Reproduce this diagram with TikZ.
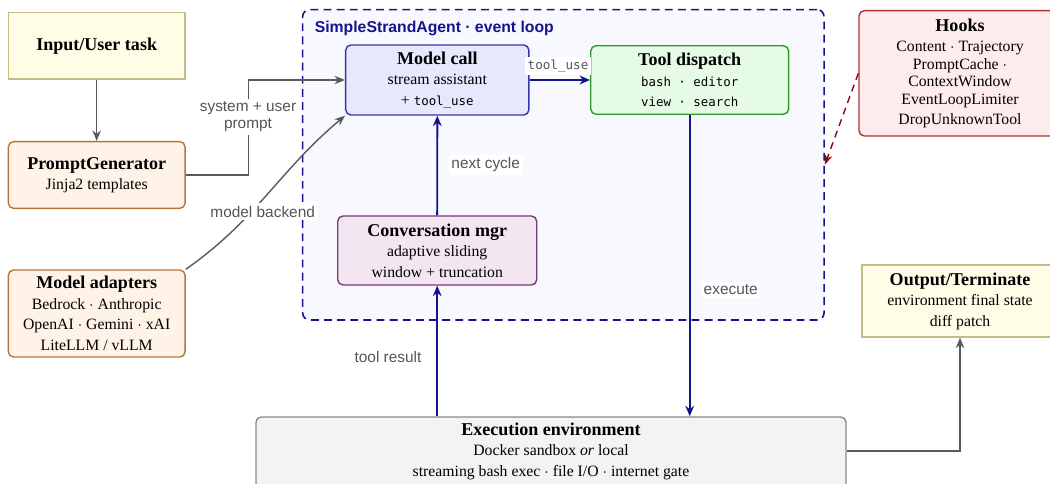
\documentclass[tikz,border=0pt]{standalone}
\usepackage{fontspec}
\setmainfont{Liberation Serif}
\setsansfont{Liberation Sans}
\setmonofont{DejaVu Sans Mono}
\usetikzlibrary{arrows.meta,calc}
\definecolor{navyc}{HTML}{14148F}
\definecolor{labelgray}{HTML}{555555}
\definecolor{arrgray}{HTML}{5A5A5A}
\definecolor{darkredc}{HTML}{8B0A0A}
\definecolor{yfill}{HTML}{FFFDE6}
\definecolor{ydraw}{HTML}{C4BC86}
\definecolor{ofill}{HTML}{FFF3E8}
\definecolor{odraw}{HTML}{B3773B}
\definecolor{bfill}{HTML}{E6E8FC}
\definecolor{bdraw}{HTML}{3535AE}
\definecolor{gfill}{HTML}{E6FBE6}
\definecolor{gdraw}{HTML}{2E9A2E}
\definecolor{pfill}{HTML}{F4E6F0}
\definecolor{pdraw}{HTML}{7A3A78}
\definecolor{rfill}{HTML}{FDECEC}
\definecolor{rdraw}{HTML}{B03030}
\definecolor{efill}{HTML}{F3F3F3}
\definecolor{edraw}{HTML}{8A8A8A}
\definecolor{loopfill}{HTML}{F8F8FF}
\newcommand\boxtitle[1]{{\fontsize{10.3}{11.7}\selectfont\bfseries #1}}
\newcommand\monotxt[1]{{\fontsize{7.1}{11.7}\selectfont\ttfamily #1}}
\begin{document}
\begin{tikzpicture}[x=0.5714pt,y=-0.5714pt,
  box/.style={draw, line width=0.8pt, align=center, inner sep=0pt,
    font=\fontsize{9}{11.7}\selectfont},
  lbl/.style={font=\fontsize{8.8}{9.6}\selectfont\sffamily, text=labelgray,
    fill=white, inner sep=1.5pt, align=center},
  navyarr/.style={draw=navyc, line width=1.1pt, -{Stealth[length=6pt,width=5pt]}},
  grayarr/.style={draw=arrgray, line width=0.8pt, -{Stealth[length=6pt,width=4.8pt]}},
  redarr/.style={draw=darkredc, line width=0.8pt, dash pattern=on 4pt off 3pt,
    -{Stealth[length=6pt,width=4.6pt]}}]
\path[use as bounding box] (0,0) rectangle (1050,484);
\clip (0,0) rectangle (1050,484);

% container
\node[draw=navyc, fill=loopfill, line width=0.9pt, dash pattern=on 4.5pt off 3pt,
  rounded corners=4pt, minimum width=297.9pt, minimum height=177.4pt, inner sep=0pt]
  (loop) at (563.35,164.8) {};
\node[anchor=west, inner sep=0pt, text=navyc,
  font=\fontsize{9}{10}\selectfont\sffamily\bfseries] (looptitle) at (314.5,28)
  {SimpleStrandAgent · event loop};

% nodes
\node[box, fill=yfill, draw=ydraw, minimum width=101pt, minimum height=37.9pt]
  (input) at (96.7,45.8) {\boxtitle{Input/User task}};
\node[box, fill=ofill, draw=odraw, rounded corners=3pt, minimum width=101pt, minimum height=38.1pt]
  (promptgen) at (96.7,175) {\boxtitle{PromptGenerator}\\Jinja2 templates};
\node[box, fill=ofill, draw=odraw, rounded corners=3pt, minimum width=101pt, minimum height=49.7pt]
  (adapters) at (96.7,313.5) {\boxtitle{Model adapters}\\Bedrock $\cdot$ Anthropic\\OpenAI $\cdot$ Gemini $\cdot$ xAI\\LiteLLM / vLLM};
\node[box, fill=bfill, draw=bdraw, rounded corners=3pt, minimum width=104.7pt, minimum height=40pt]
  (modelcall) at (437.3,80) {\boxtitle{Model call}\\stream assistant\\+ \monotxt{tool\_use}};
\node[box, fill=gfill, draw=gdraw, rounded corners=3pt, minimum width=113.1pt, minimum height=39.1pt]
  (tooldisp) at (689.7,80) {\boxtitle{Tool dispatch}\\\monotxt{bash · editor}\\\monotxt{view · search}};
\node[box, fill=pfill, draw=pdraw, rounded corners=3pt, minimum width=113.7pt, minimum height=39.4pt]
  (conv) at (437.2,250.5) {\boxtitle{Conversation mgr}\\adaptive sliding\\window + truncation};
% execution environment: its box runs past the lower edge of the picture
\draw[fill=efill, draw=edraw, line width=0.8pt, rounded corners=3pt] (256,417) rectangle (846,496);
\node[box, draw=none, minimum width=337.1pt, minimum height=38.9pt]
  (exec) at (551,451) {\boxtitle{Execution environment}\\Docker sandbox \emph{or} local\\streaming bash exec $\cdot$ file I/O $\cdot$ internet gate};
\node[box, fill=yfill, draw=ydraw, minimum width=112pt, minimum height=41.1pt]
  (output) at (960,301) {\boxtitle{Output/Terminate}\\environment final state\\diff patch};
\node[box, fill=rfill, draw=rdraw, rounded corners=3pt, minimum width=115.4pt, minimum height=71.6pt,
  font=\fontsize{9}{10}\selectfont]
  (hooks) at (960,73.3) {\boxtitle{Hooks}\\[1.7pt]Content $\cdot$ Trajectory\\PromptCache $\cdot$\\ContextWindow\\EventLoopLimiter\\[1.4pt]DropUnknownTool};

% connectors
\draw[grayarr] (input) -- (promptgen);
\coordinate (sysbend) at (248.3,80);
\draw[grayarr] (promptgen.east) -| (sysbend) -- (modelcall.west);
\node[lbl] (syslbl) at (248,117) {system + user\\prompt};
\draw[grayarr] (adapters.north east) to[out=35,in=220] (modelcall.south west);
\node[lbl] (mblbl) at (262.7,211.7) {model backend};

\draw[navyarr] (modelcall.east) -- (tooldisp.west);
\node[lbl, font=\fontsize{7.2}{8}\selectfont\ttfamily] (tulbl) at (558,66) {tool\_use};
\draw[navyarr] (conv.north) -- (modelcall.south);
\node[lbl] (nclbl) at (485.7,165) {next cycle};
\draw[navyarr] (tooldisp.south) -- (exec.north -| tooldisp.south);
\node[lbl] (exlbl) at (730.7,290) {execute};
\draw[navyarr] (exec.north -| conv.south) -- (conv.south);
\node[lbl, fill=none] (trlbl) at (388,357) {tool result};
\draw[grayarr] (exec.east) -| (output.south);
\draw[redarr] (hooks.west) -- (loop.east);
\end{tikzpicture}
\end{document}
